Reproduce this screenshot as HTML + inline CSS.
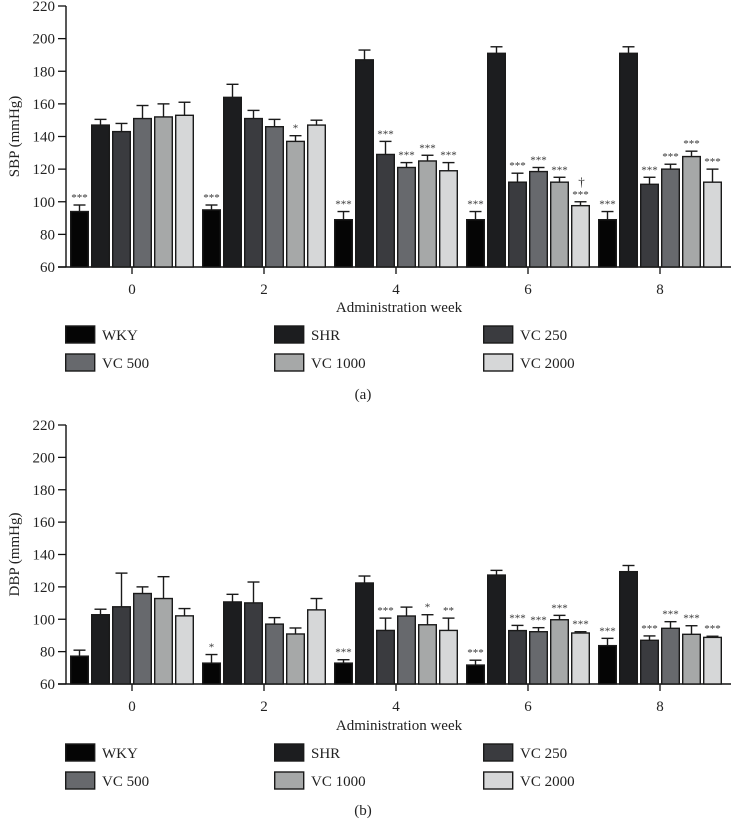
<!DOCTYPE html>
<html><head><meta charset="utf-8"><style>
body{margin:0;background:#fff;}
svg{display:block;font-family:"Liberation Serif",serif;}
</style></head><body>
<svg id="chart" width="731" height="819" viewBox="0 0 731 819"></svg>
<script>
const weeks = ["0","2","4","6","8"];
const groups = ["WKY","SHR","VC 250","VC 500","VC 1000","VC 2000"];
const colors = ["#050505","#1c1d1f","#3a3b3f","#67696d","#a6a8a8","#d6d7d8"];
const yTicks = [60,80,100,120,140,160,180,200,220];
// SBP means [week][group]
const sbp = [[94,147,143,151,152,153],[95,164,151,146,137,147],[89,187,129,121,125,119],[89,191,112,118.5,112,97.6],[89,191,110.7,120,127.7,112]];
const sbpErr = [[4,3.5,5,8,8,8],[3,8,5,4.5,3.5,3],[5,6,8,3,3.5,5],[5,4,5.5,2.5,3,2.4],[5,4,4.3,3,3.3,8]];
const sbpSig = [["***","","","","",""],["***","","","","*",""],["***","","***","***","***","***"],["***","","***","***","***","***\n†"],["***","","***","***","***","***"]];
// DBP means
const dbp = [[77.2,102.8,107.7,115.9,112.8,102.1],[72.9,110.7,110.1,97,90.9,105.8],[72.9,122.4,93.1,102,96.6,93.1],[71.7,127.3,93,92.3,99.7,91.5],[83.7,129.4,87,94.4,90.7,88.8]];
const dbpErr = [[3.7,3.4,20.8,4.1,13.5,4.5],[5.3,4.7,12.9,4,3.7,7],[2.1,4.3,7.6,5.5,6.2,7.6],[3,2.9,3.2,2.5,2.7,0.8],[4.5,3.8,2.7,4.1,5.3,0.7]];
const dbpSig = [["","","","","",""],["*","","","","",""],["***","","***","","*","**"],["***","","***","***","***","***"],["***","","***","***","***","***"]];

const svg = document.getElementById('chart');
const NS = "http://www.w3.org/2000/svg";
function mk(tag, attrs, parent){const e=document.createElementNS(NS,tag);for(const k in attrs)e.setAttribute(k,attrs[k]);(parent||svg).appendChild(e);return e;}

function drawPanel(cfg){
  const g = mk('g',{});
  
  
  const y0=cfg.base, y1=cfg.top, xL=66, xR=731;
  const y = v => y0 - (v-60)/(160)*(y0-y1);
  const xc = i => 132 + i*132;
  // axes
  const ya = mk('line',{x1:xL,y1:y1,x2:xL,y2:y0,stroke:'#111','stroke-width':1.4},g);
  
  
  const xa = mk('line',{x1:xL-8,y1:y0,x2:xR,y2:y0,stroke:'#111','stroke-width':1.4},g);
  
  
  yTicks.forEach(t=>{
    mk('line',{x1:xL-8,y1:y(t),x2:xL,y2:y(t),stroke:'#111','stroke-width':1.3},g);
    const tx = mk('text',{x:xL-11,y:y(t)+5,'text-anchor':'end','font-size':15,fill:'#222'},g);
    tx.textContent=t;
    
    
  });
  const yl = mk('text',{x:0,y:0,transform:`translate(19,${(y0+y1)/2}) rotate(-90)`,'text-anchor':'middle','font-size':15,fill:'#222'},g);
  yl.textContent=cfg.ylabel;
  
  
  weeks.forEach((w,i)=>{
    mk('line',{x1:xc(i),y1:y0,x2:xc(i),y2:y0+7,stroke:'#111','stroke-width':1.3},g);
    const tx = mk('text',{x:xc(i),y:y0+27,'text-anchor':'middle','font-size':15,fill:'#222'},g);
    tx.textContent=w;
    
    
    groups.forEach((gr,j)=>{
      const v=cfg.vals[i][j], e=cfg.err[i][j];
      const bx = xc(i)-62+j*21;
      const b = mk('rect',{x:bx+0.7,y:y(v),width:17.6,height:y0-y(v),fill:colors[j],stroke:'#1a1a1a','stroke-width':1.4},g);
      
      
      const cx = bx+9.5;
      mk('line',{x1:cx,y1:y(v),x2:cx,y2:y(v+e),stroke:'#1a1a1a','stroke-width':1.4},g);
      mk('line',{x1:cx-6,y1:y(v+e),x2:cx+6,y2:y(v+e),stroke:'#1a1a1a','stroke-width':1.4},g);
      const s = cfg.sig[i][j];
      if(s){
        const parts = s.split('\n');
        const sy = y(v+e)-4;
        const st = mk('text',{x:cx,y:sy,'text-anchor':'middle','font-size':11,fill:'#333'},g);
        st.textContent=parts[0];
        
        
        if(parts[1]){
          const dg = mk('text',{x:cx+1,y:sy-12,'text-anchor':'middle','font-size':13,fill:'#333'},g);
          dg.textContent=parts[1];
          
          
        }
      }
    });
  });
  const xt = mk('text',{x:399,y:cfg.xtitleY,'text-anchor':'middle','font-size':15,fill:'#222'},g);
  xt.textContent='Administration week';
  
  
  const cols=[65,274,483];
  groups.forEach((gr,j)=>{
    const lx = cols[j%3], ly = cfg.legY + Math.floor(j/3)*28;
    const lg = mk('g',{},g);
    
    
    mk('rect',{x:lx+0.7,y:ly,width:29,height:17,fill:colors[j],stroke:'#1a1a1a','stroke-width':1.4},lg);
    const t = mk('text',{x:lx+37,y:ly+14,'font-size':15,fill:'#222'},lg);
    t.textContent=gr;
  });
  const cap = mk('text',{x:363,y:cfg.capY,'text-anchor':'middle','font-size':15,fill:'#222'},g);
  cap.textContent=cfg.cap;
  
  
}
drawPanel({name:'sbp-chart',base:267,top:6,ylabel:'SBP (mmHg)',vals:sbp,err:sbpErr,sig:sbpSig,xtitleY:312,legY:326,capY:399,cap:'(a)'});
drawPanel({name:'dbp-chart',base:684,top:425,ylabel:'DBP (mmHg)',vals:dbp,err:dbpErr,sig:dbpSig,xtitleY:730,legY:744,capY:815,cap:'(b)'});
</script>
</body></html>
